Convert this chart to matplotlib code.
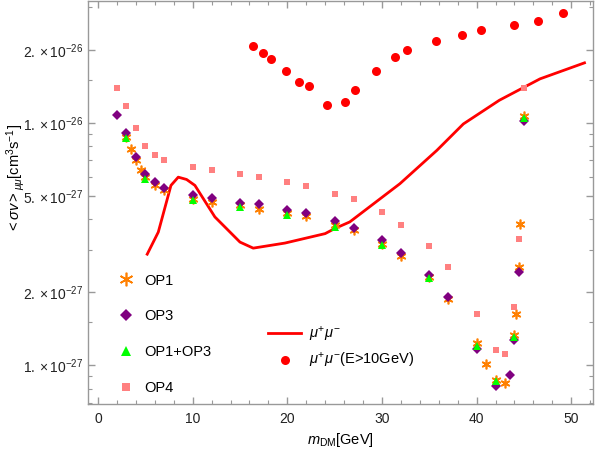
import matplotlib
matplotlib.use("Agg")
import matplotlib.pyplot as plt
import matplotlib.ticker as mticker
import numpy as np

plt.rcParams['font.family'] = ['Liberation Sans', 'DejaVu Sans']
plt.rcParams['mathtext.fontset'] = 'custom'
plt.rcParams['mathtext.rm'] = 'Liberation Sans'
plt.rcParams['mathtext.it'] = 'Liberation Sans:italic'
plt.rcParams['mathtext.bf'] = 'Liberation Sans:bold'

# OP1
op1_x = [3, 3.5, 4, 4.5, 5, 6, 7, 10, 12, 15, 17, 20, 22, 25, 27, 30, 32, 35, 37,
         40, 41, 42, 43, 44, 44.2, 44.5, 44.6, 45]
op1_y = [8.75e-27, 7.8e-27, 7.04e-27, 6.42e-27, 6.0e-27, 5.52e-27, 5.26e-27, 4.85e-27,
         4.72e-27, 4.56e-27, 4.42e-27, 4.25e-27, 4.11e-27, 3.8e-27, 3.6e-27, 3.17e-27,
         2.81e-27, 2.3e-27, 1.88e-27, 1.23e-27, 1.01e-27, 8.7e-28, 8.45e-28, 1.33e-27,
         1.62e-27, 2.53e-27, 3.84e-27, 1.07e-26]
# OP3
op3_x = [2, 3, 4, 5, 6, 7, 10, 12, 15, 17, 20, 22, 25, 27, 30, 32, 35, 37, 40, 42,
         43.5, 44, 44.5, 45]
op3_y = [1.08e-26, 9.1e-27, 7.24e-27, 6.16e-27, 5.69e-27, 5.41e-27, 5.05e-27, 4.88e-27,
         4.69e-27, 4.61e-27, 4.36e-27, 4.24e-27, 3.94e-27, 3.68e-27, 3.27e-27, 2.91e-27,
         2.35e-27, 1.91e-27, 1.17e-27, 8.2e-28, 9.1e-28, 1.27e-27, 2.42e-27, 1.02e-26]
# OP1+OP3
op13_x = [3, 5, 10, 15, 20, 25, 30, 35, 40, 42, 44, 45]
op13_y = [8.67e-27, 5.88e-27, 4.79e-27, 4.49e-27, 4.18e-27, 3.71e-27, 3.12e-27,
          2.28e-27, 1.2e-27, 8.6e-28, 1.31e-27, 1.05e-26]
# OP4
op4_x = [2, 3, 4, 5, 6, 7, 10, 12, 15, 17, 20, 22, 25, 27, 30, 32, 35, 37, 40, 42,
         43, 43.9, 44.5, 45]
op4_y = [1.40e-26, 1.17e-26, 9.5e-27, 8.05e-27, 7.4e-27, 7.03e-27, 6.56e-27, 6.38e-27,
         6.14e-27, 5.97e-27, 5.71e-27, 5.48e-27, 5.09e-27, 4.83e-27, 4.27e-27, 3.78e-27,
         3.09e-27, 2.54e-27, 1.62e-27, 1.15e-27, 1.11e-27, 1.74e-27, 3.31e-27, 1.40e-26]
# mu+ mu- limit (line)
mumu_x = [5.2, 6.37, 7.71, 8.48, 9.36, 10.24, 12.35, 15.0, 16.4, 19.75, 24.0, 25.0,
          26.6, 31.9, 35.8, 38.6, 42.4, 46.7, 51.4]
mumu_y = [2.87e-27, 3.54e-27, 5.52e-27, 5.97e-27, 5.84e-27, 5.52e-27, 4.09e-27,
          3.22e-27, 3.04e-27, 3.19e-27, 3.49e-27, 3.66e-27, 3.9e-27, 5.61e-27,
          7.7e-27, 9.9e-27, 1.24e-26, 1.52e-26, 1.77e-26]
# mu+ mu- (E>10GeV)
mumu10_x = [16.33, 17.46, 18.27, 19.9, 21.2, 22.3, 24.2, 26.1, 27.2, 29.4, 31.4, 32.6,
            35.7, 38.5, 40.5, 44.0, 46.5, 49.1]
mumu10_y = [2.07e-26, 1.94e-26, 1.84e-26, 1.64e-26, 1.48e-26, 1.42e-26, 1.19e-26,
            1.22e-26, 1.37e-26, 1.64e-26, 1.88e-26, 2.0e-26, 2.17e-26, 2.31e-26,
            2.42e-26, 2.54e-26, 2.64e-26, 2.84e-26]

ymajor = [1e-27, 2e-27, 5e-27, 1e-26, 2e-26]
ymajor_labels = [r'$1.\times10^{-27}$', r'$2.\times10^{-27}$', r'$5.\times10^{-27}$',
                 r'$1.\times10^{-26}$', r'$2.\times10^{-26}$']
yminor = [7e-28, 8e-28, 9e-28, 1.5e-27, 3e-27, 4e-27, 6e-27, 7e-27, 8e-27, 9e-27,
          1.5e-26, 3e-26]

fig = plt.figure(figsize=(5.99, 4.5), dpi=100)
ax = fig.add_axes([0.147, 0.102, 0.843, 0.896])

ax.plot(mumu_x, mumu_y, color='#ff0000', lw=2.0, zorder=2, label=r'$\mu^{+}\mu^{-}$')
ax.plot(mumu10_x, mumu10_y, 'o', color='#ff0000', ms=6.5, mew=0, zorder=2,
        label=r'$\mu^{+}\mu^{-}$(E>10GeV)')
s1, = ax.plot(op1_x, op1_y, linestyle='none', marker=(6, 2, 0), color='#ff8000',
              ms=7, mew=1.2, zorder=3, label='OP1')
s3, = ax.plot(op3_x, op3_y, 'D', color='#800080', ms=4.6, mew=0, zorder=4, label='OP3')
s13, = ax.plot(op13_x, op13_y, '^', color='#00ff00', ms=5.5, mew=0, zorder=5,
               label='OP1+OP3')
s4, = ax.plot(op4_x, op4_y, 's', color='#ff8080', ms=4.3, mew=0, zorder=6, label='OP4')

ax.set_yscale('log')
ax.set_xlim(-1.05, 52.3)
ax.set_ylim(6.9e-28, 3.19e-26)
ax.yaxis.set_major_locator(mticker.FixedLocator(ymajor))
ax.yaxis.set_major_formatter(mticker.FixedFormatter(ymajor_labels))
ax.yaxis.set_minor_locator(mticker.FixedLocator(yminor))
ax.yaxis.set_minor_formatter(mticker.NullFormatter())
ax.xaxis.set_major_locator(mticker.MultipleLocator(10))
ax.xaxis.set_minor_locator(mticker.MultipleLocator(2))

frame_col = '#999999'
for sp in ax.spines.values():
    sp.set_color(frame_col)
    sp.set_linewidth(1.0)
ax.tick_params(which='both', direction='in', top=True, right=True, color=frame_col,
               labelsize=10, labelcolor='#222222')
ax.tick_params(which='major', length=5, width=1.0)
ax.tick_params(which='minor', length=3, width=0.8)
ax.tick_params(axis='x', which='major', pad=6)

ax.set_xlabel(r'$m_{\mathrm{DM}}$[GeV]', fontsize=10.5, labelpad=3)
ax.set_ylabel(r'$<\sigma v>_{\mu\mu}[\mathrm{cm}^{3}\mathrm{s}^{-1}]$', fontsize=10.5,
              labelpad=4)
ax.yaxis.set_label_coords(-0.12, 0.56)

leg1 = ax.legend(handles=[s1, s3, s13, s4], loc='upper left',
                 bbox_to_anchor=(0.1925, 0.392), bbox_transform=fig.transFigure,
                 frameon=False, fontsize=10.5, numpoints=1, handlelength=1.4,
                 handletextpad=0.6, labelspacing=1.5, borderpad=0, borderaxespad=0,
                 markerscale=1.4)
ax.add_artist(leg1)
h, l = ax.get_legend_handles_labels()
ax.legend(h[:2], l[:2], loc='upper left', bbox_to_anchor=(0.447, 0.278),
          bbox_transform=fig.transFigure, frameon=False, fontsize=10.5, numpoints=1,
          handlelength=2.3, handletextpad=0.5, labelspacing=0.5, borderpad=0,
          borderaxespad=0)

plt.savefig('out.png', dpi=100)
